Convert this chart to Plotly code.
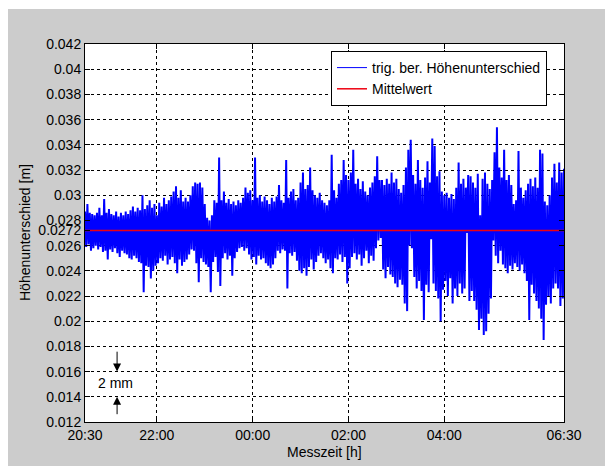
import numpy as np
import plotly.graph_objects as go

# ---------------- data ----------------
START_HOUR = 20.5          # 20:30
STEP_HOURS = 0.05          # spacing of the read envelope samples
MEAN_M = 0.0272            # Mittelwert

# upper / lower envelope of the measured signal, millimetres
UPPER_MM = [
    28.7, 29.3, 28.6, 28.5, 28.4, 28.6, 29.0, 28.4, 29.7, 28.6,
    28.9, 28.5, 28.4, 28.7, 28.3, 28.6, 28.4, 28.7, 28.5, 28.8,
    29.1, 28.7, 29.0, 28.8, 30.0, 28.9, 29.2, 29.6, 29.0, 29.3,
    28.4, 29.4, 29.1, 29.8, 29.3, 29.6, 29.9, 30.3, 30.7, 29.8,
    30.4, 29.5, 29.8, 29.5, 30.0, 30.7, 31.0, 30.9, 31.0, 30.6,
    29.3, 28.2, 28.0, 28.4, 29.6, 29.4, 33.0, 29.6, 30.3, 29.4,
    29.7, 29.3, 29.5, 29.2, 29.6, 29.4, 29.8, 30.6, 30.2, 30.4,
    29.6, 33.0, 29.8, 30.0, 29.5, 29.9, 29.6, 29.3, 29.8, 29.5,
    29.9, 30.8, 29.6, 29.4, 32.8, 29.8, 30.3, 30.5, 29.6, 29.8,
    31.0, 31.8, 30.5, 30.8, 32.2, 30.4, 30.0, 29.8, 30.2, 29.6,
    29.4, 29.2, 29.6, 33.2, 30.4, 29.8, 30.9, 31.2, 32.8, 31.6,
    31.2, 31.8, 33.6, 30.9, 31.3, 30.5, 31.1, 30.3, 30.0, 30.6,
    31.0, 31.5, 33.1, 31.2, 31.2, 30.8, 31.3, 30.9, 31.8, 31.0,
    31.3, 30.5, 30.2, 30.8, 32.2, 33.6, 34.4, 31.6, 30.9, 32.8,
    31.2, 30.6, 31.4, 32.7, 31.0, 34.5, 33.9, 31.5, 31.9, 30.3,
    30.0, 30.2, 29.8, 30.1, 29.7, 30.6, 32.6, 30.9, 31.3, 30.6,
    31.6, 31.5, 31.0, 30.6, 31.7, 28.4, 31.3, 31.8, 30.9, 30.5,
    31.2, 33.4, 35.4, 32.2, 31.4, 33.6, 31.2, 31.6, 30.8, 29.3,
    29.6, 33.5, 30.6, 29.8, 30.4, 30.9, 31.3, 30.7, 31.4, 30.6,
    33.6, 33.3, 29.5, 29.2, 30.0, 31.4, 32.5, 31.0, 32.6, 31.8,
    32.1,
]
LOWER_MM = [
    25.9, 26.1, 25.6, 25.8, 26.0, 25.7, 25.9, 25.5, 25.6, 24.9,
    25.7, 25.5, 25.8, 25.4, 25.1, 25.6, 25.4, 25.3, 25.0, 24.9,
    25.2, 25.0, 24.7, 24.6, 22.3, 24.4, 24.3, 23.4, 24.0, 24.4,
    24.6, 25.0, 24.8, 25.2, 24.5, 24.9, 25.1, 24.6, 23.8, 24.9,
    24.4, 24.7, 24.9, 25.3, 25.7, 25.6, 24.6, 23.1, 25.0, 24.7,
    24.5, 24.3, 22.3, 24.7, 25.1, 23.9, 22.8, 25.0, 25.4, 24.9,
    25.2, 23.6, 25.0, 25.5, 25.8, 25.9, 25.6, 25.8, 25.3, 24.9,
    25.1, 24.5, 25.2, 24.9, 25.0, 24.6, 24.4, 24.2, 24.5, 25.0,
    25.6, 25.4, 25.7, 25.6, 22.6, 25.4, 25.2, 25.5, 24.8, 24.0,
    23.8, 24.2, 23.6, 24.3, 24.9, 24.1, 24.7, 25.2, 25.4, 25.0,
    24.6, 24.9, 24.2, 23.8, 25.0, 24.9, 25.3, 24.7, 25.1, 23.0,
    24.2, 25.1, 25.4, 24.9, 25.3, 24.4, 25.0, 25.6, 24.6, 25.2,
    24.8, 25.8, 26.4, 26.6, 24.1, 23.4, 24.3, 23.7, 23.5, 23.0,
    22.7, 23.3, 22.9, 21.4, 20.8, 26.0, 25.8, 23.5, 22.6, 23.2,
    22.4, 20.1, 22.9, 22.3, 26.5, 23.0, 22.4, 21.8, 20.0, 22.5,
    23.2, 22.0, 23.4, 21.4, 22.6, 22.0, 23.0, 22.2, 22.6, 27.0,
    21.6, 22.4, 21.6, 20.9, 19.3, 20.2, 18.9, 19.2, 20.6, 21.8,
    26.4, 25.2, 24.6, 25.6, 24.5, 24.2, 23.8, 24.4, 24.1, 24.6,
    24.3, 24.0, 24.5, 23.8, 23.2, 20.1, 22.9, 22.2, 21.6, 21.0,
    20.2, 18.5, 21.3, 22.0, 21.4, 22.6, 23.0, 22.6, 21.2, 21.8,
    18.7,
]

X_TICK_VALUES = [20.5, 22, 24, 26, 28, 30.5]
X_TICK_LABELS = ["20:30", "22:00", "00:00", "02:00", "04:00", "06:30"]
Y_TICK_VALUES = [0.012, 0.014, 0.016, 0.018, 0.020, 0.022, 0.024, 0.026,
                 0.028, 0.030, 0.032, 0.034, 0.036, 0.038, 0.040, 0.042, MEAN_M]
Y_TICK_LABELS = ["0.012", "0.014", "0.016", "0.018", "0.02", "0.022", "0.024", "0.026",
                 "0.028", "0.03", "0.032", "0.034", "0.036", "0.038", "0.04", "0.042", "0.0272"]

X_RANGE = [20.5, 30.5]
Y_RANGE = [0.012, 0.042]

# "2 mm" marker
MARK_X = 21.17
MARK_TEXT_Y = 0.0151
MARK_LOW = 0.014
MARK_HIGH = 0.016
# ----------------------------------------------------------------

assert len(UPPER_MM) == len(LOWER_MM)
n = len(UPPER_MM)
t = START_HOUR + STEP_HOURS * np.arange(n)
up = np.array(UPPER_MM) / 1000.0
lo = np.array(LOWER_MM) / 1000.0

xs = np.empty(2 * n)
ys = np.empty(2 * n)
xs[0::2] = t
xs[1::2] = t + STEP_HOURS / 2
ys[0::2] = up
ys[1::2] = lo

FONT = "Liberation Sans, Arial, sans-serif"
BLUE = "#0000ff"
SIG_NAME = "trig. ber. Höhenunterschied"

fig = go.Figure()
fig.add_trace(go.Scatter(
    x=xs, y=ys, mode="lines", name=SIG_NAME, legendgroup="sig", showlegend=False,
    line=dict(color=BLUE, width=2), hoverinfo="skip"))
# legend entry with the thin line of the original legend
fig.add_trace(go.Scatter(
    x=[None], y=[None], mode="lines", name=SIG_NAME, legendgroup="sig",
    line=dict(color=BLUE, width=1)))
fig.add_trace(go.Scatter(
    x=X_RANGE, y=[MEAN_M, MEAN_M], mode="lines", name="Mittelwert",
    line=dict(color="#ee0010", width=1.5)))

# page body adds an 8 px offset, so the figure is 8 px smaller than the window
W, H = 605, 458
L, R, T, B = 77, 49, 36, 44
pw, ph = W - L - R, H - T - B

def px_x(X):  # figure pixel -> paper x
    return (X - L) / pw

def px_y(Y):  # figure pixel -> paper y
    return (H - B - Y) / ph

shapes = [
    dict(type="rect", xref="paper", yref="paper", layer="below",
         x0=px_x(0), x1=px_x(W), y0=px_y(H), y1=px_y(1),
         fillcolor="#cccccc", line=dict(width=0)),
    dict(type="rect", xref="paper", yref="paper", layer="below",
         x0=0, x1=1, y0=0, y1=1, fillcolor="white", line=dict(width=0)),
]

annotations = [
    dict(x=px_x(L - 60), y=0.5, xref="paper", yref="paper", text="Höhenunterschied [m]",
         textangle=-90, showarrow=False, font=dict(size=14, color="black", family=FONT),
         xanchor="center", yanchor="middle"),
    dict(x=0.5, y=px_y(H - B + 30), xref="paper", yref="paper", text="Messzeit [h]",
         showarrow=False, font=dict(size=14, color="black", family=FONT),
         xanchor="center", yanchor="middle"),
    dict(x=MARK_X - 0.03, y=MARK_TEXT_Y, xref="x", yref="y", text="2 mm", showarrow=False,
         font=dict(size=14, color="black", family=FONT), xanchor="center", yanchor="middle"),
    dict(x=MARK_X, y=MARK_HIGH, ax=MARK_X, ay=MARK_HIGH + 0.0017, xref="x", yref="y",
         axref="x", ayref="y", text="", showarrow=True, arrowhead=2, arrowsize=1.6,
         arrowwidth=1, arrowcolor="black", standoff=0),
    dict(x=MARK_X, y=MARK_LOW, ax=MARK_X, ay=MARK_LOW - 0.0015, xref="x", yref="y",
         axref="x", ayref="y", text="", showarrow=True, arrowhead=2, arrowsize=1.6,
         arrowwidth=1, arrowcolor="black", standoff=0),
]

axis_common = dict(
    showline=True, linecolor="black", linewidth=1, mirror="ticks",
    ticks="inside", ticklen=5, tickcolor="black", tickwidth=1,
    showgrid=True, gridcolor="black", gridwidth=1, griddash="3px,3px",
    zeroline=False, automargin=False,
    tickfont=dict(size=14, color="black", family=FONT),
)

fig.update_layout(
    width=W, height=H,
    margin=dict(l=L, r=R, t=T, b=B, pad=0),
    paper_bgcolor="white", plot_bgcolor="white",
    showlegend=True,
    legend=dict(x=px_x(331 - 8), y=px_y(51 - 8), xanchor="left", yanchor="top",
                bgcolor="white", bordercolor="black", borderwidth=1,
                font=dict(size=14, color="black", family=FONT),
                tracegroupgap=0, itemwidth=30),
    xaxis=dict(range=X_RANGE, tickvals=X_TICK_VALUES, ticktext=X_TICK_LABELS, **axis_common),
    yaxis=dict(range=Y_RANGE, tickvals=Y_TICK_VALUES, ticktext=Y_TICK_LABELS, **axis_common),
    shapes=shapes,
    annotations=annotations,
)

fig.write_html("out.html")
